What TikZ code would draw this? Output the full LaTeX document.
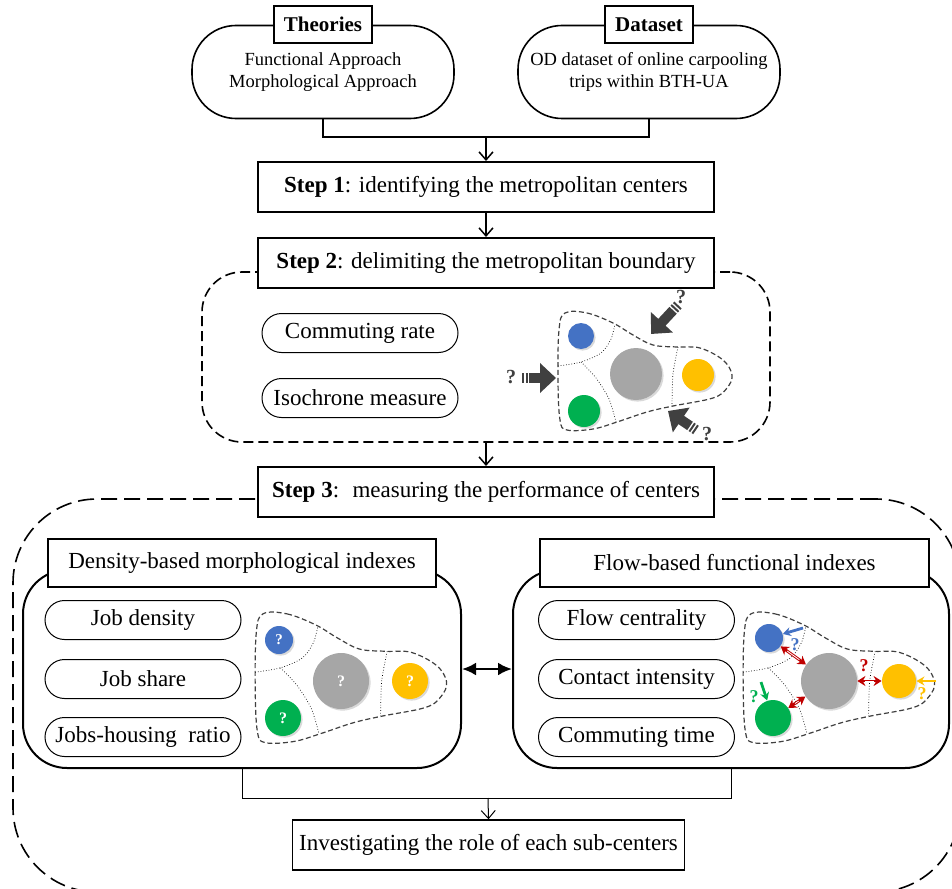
\documentclass[tikz,border=0pt]{standalone}
\usepackage{fontspec}
\setmainfont{Liberation Serif}
\usetikzlibrary{arrows.meta,shadows,positioning}

\definecolor{cblue}{RGB}{68,114,196}
\definecolor{cgray}{RGB}{166,166,166}
\definecolor{cyellow}{RGB}{255,192,0}
\definecolor{cgreen}{RGB}{0,176,80}
\definecolor{cdark}{RGB}{64,64,64}
\definecolor{cred}{RGB}{192,0,0}

\newcommand{\mainsize}{\fontsize{11.5}{13.8}\selectfont}

% outline of the metropolitan area, drawn round the main center
\newcommand{\cityblob}{%
	\draw[blobline] plot[smooth cycle, tension=0.6] coordinates {(-71,-61) (-49,-61) (-23,-51) (-3,-39) (17,-29) (41,-27) (64,-26) (87,-14) (96,1) (91,14) (77,24) (37,32) (11,38) (-19,48) (-43,55) (-69,56) (-76,46) (-78,6) (-77,-44)};
	\draw[divline] plot[smooth] coordinates {(-78,-8) (-55,-12) (-35,-21) (-25,-35) (-21,-50)};
	\draw[divline] plot[smooth] coordinates {(-55,-12) (-40,4) (-27,25) (-20,48)};
	\draw[divline] plot[smooth] coordinates {(42,-27) (37,0) (36,32)};
}

\begin{document}
\begin{tikzpicture}[x=0.5pt,y=-0.5pt,
	every node/.style={font=\mainsize},
	topbox/.style={draw, line width=0.8pt, rounded corners=22pt, minimum width=131pt, minimum height=46.5pt, align=center, font=\fontsize{9.25}{11.2}\selectfont},
	tagbox/.style={draw, fill=white, line width=0.8pt, minimum height=18.5pt, inner xsep=5pt, font=\fontsize{10.5}{12}\selectfont\bfseries},
	stepbox/.style={draw, fill=white, line width=1pt, minimum width=228pt, minimum height=25pt},
	pill/.style={draw, line width=0.5pt, rounded corners=9.75pt, minimum width=98pt, minimum height=19.5pt},
	panel/.style={draw, line width=1pt, rounded corners=22pt},
	conn/.style={line width=0.75pt},
	thinconn/.style={line width=0.5pt},
	arr/.style={-{Straight Barb[length=4pt,width=7pt]}},
	blobline/.style={cdark, line width=0.6pt, dash pattern=on 2.5pt off 1.4pt},
	divline/.style={black, line width=0.35pt, densely dotted},
	cityc/.style={circle, inner sep=0pt, text=white, font=\fontsize{8}{8}\selectfont\bfseries, drop shadow={shadow xshift=0.8pt, shadow yshift=-0.8pt, opacity=0.3}},
	bigarr/.style={cdark, line width=5pt, dash pattern=on 1pt off 0.8pt on 1pt off 0.8pt on 60pt, -{Triangle[length=8pt,width=14.5pt]}},
	qdark/.style={cdark, font=\fontsize{10}{10}\selectfont\bfseries},
	qcol/.style={font=\fontsize{9}{9}\selectfont\bfseries},
	colarr/.style={line width=1.4pt, -{Stealth[length=4pt,width=4.5pt]}},
	redarr/.style={cred, line width=1.4pt, {Stealth[length=4pt,width=5pt]}-{Stealth[length=4pt,width=5pt]}},
	redcore/.style={white, line width=0.4pt, shorten <=4pt, shorten >=4pt}]
	
	\clip (0,0) rectangle (952,888);
	
	% inputs
	\node[topbox] (theo) at (323,72) {Functional Approach\\Morphological Approach};
	\node[tagbox] (theotag) at (theo.north) {Theories};
	\node[topbox] (data) at (649,72) {OD dataset of online carpooling\\trips within BTH-UA};
	\node[tagbox] (datatag) at (data.north) {Dataset};
	\coordinate (topjoin) at (486,137);
	\draw[conn] (theo.south) |- (topjoin) -| (data.south);
	
	% step 1
	\node[stepbox] (s1) at (486,187) {\textbf{Step 1}: identifying the metropolitan centers};
	\draw[conn,arr] (topjoin) -- (s1.north);
	
	% step 2
	\node[draw, line width=0.8pt, dash pattern=on 5pt off 2.5pt, rounded corners=20pt, minimum width=284pt, minimum height=85pt] (f2) at (486,357) {};
	\node[stepbox] (s2) at (486,263) {\textbf{Step 2}: delimiting the metropolitan boundary};
	\draw[conn,arr] (s1) -- (s2);
	\node[pill] (rate) at (360,333) {Commuting rate};
	\node[pill] (iso) at (360,398) {Isochrone measure};
	
	\begin{scope}[shift={(636,374)}]
		\cityblob
	\end{scope}
	\node[cityc, fill=cblue, minimum size=13pt] (b2) at (581,336) {};
	\node[cityc, fill=cgray, minimum size=26pt] (g2) at (636,374) {};
	\node[cityc, fill=cyellow, minimum size=16pt] (y2) at (698,375) {};
	\node[cityc, fill=cgreen, minimum size=16pt] (n2) at (584,411) {};
	
	\coordinate (in1) at (678,305);
	\coordinate (at1) at (651,334);
	\coordinate (in2) at (522,378);
	\coordinate (at2) at (556,378);
	\coordinate (in3) at (696,430);
	\coordinate (at3) at (668,411);
	\draw[bigarr] (in1) -- (at1);
	\draw[bigarr] (in2) -- (at2);
	\draw[bigarr] (in3) -- (at3);
	\node[qdark] (q1) at (681,297) {?};
	\node[qdark] (q2) at (511,377) {?};
	\node[qdark] (q3) at (707,434) {?};
	
	% step 3
	\node[draw, line width=0.8pt, dash pattern=on 8pt off 3.5pt, rounded corners=42pt, minimum width=473.5pt, minimum height=196.5pt] (f3) at (486.5,695.5) {};
	\node[stepbox] (s3) at (486,492) {\textbf{Step 3}:~ measuring the performance of centers};
	\draw[conn,arr] (f2.south) -- (s3.north);
	
	\node[panel, minimum width=219pt, minimum height=99pt] (lp) at (242,669) {};
	\node[panel, minimum width=218pt, minimum height=99pt] (rp) at (731,669) {};
	\node[draw, fill=white, line width=1pt, minimum width=194pt, minimum height=24pt] (lh) at (242,563) {Density-based morphological indexes};
	\node[draw, fill=white, line width=1pt, minimum width=194.5pt, minimum height=24pt] (rh) at (734.5,563) {Flow-based functional indexes};
	\draw[line width=1.3pt, {Latex[length=7pt,width=6.5pt]}-{Latex[length=7pt,width=6.5pt]}] (lp.east) -- (rp.west);
	
	\node[pill] (jd) at (143,620) {Job density};
	\node[pill] (js) at (143,679) {Job share};
	\node[pill] (jh) at (143,737) {Jobs-housing~ ratio};
	\node[pill] (fc) at (636.5,620) {Flow centrality};
	\node[pill] (ci) at (636.5,679) {Contact intensity};
	\node[pill] (ct) at (636.5,737) {Commuting time};
	
	% morphological map
	\begin{scope}[shift={(341,681)},scale=1.1]
		\cityblob
	\end{scope}
	\node[cityc, fill=cblue, minimum size=14pt, font=\fontsize{7.5}{7.5}\selectfont\bfseries] (b3) at (279,640) {?};
	\node[cityc, fill=cgray, minimum size=28pt] (g3) at (341,681) {?};
	\node[cityc, fill=cyellow, minimum size=18pt] (y3) at (410,681) {?};
	\node[cityc, fill=cgreen, minimum size=18pt] (n3) at (283,718) {?};
	
	% functional map
	\begin{scope}[shift={(829,681)},scale=1.1]
		\cityblob
	\end{scope}
	\node[cityc, fill=cblue, minimum size=14pt] (b4) at (769,638) {};
	\node[cityc, fill=cgray, minimum size=28pt] (g4) at (829,681) {};
	\node[cityc, fill=cyellow, minimum size=17pt] (y4) at (899,681) {};
	\node[cityc, fill=cgreen, minimum size=18pt] (n4) at (773,718) {};
	\draw[redarr] (b4) -- (g4);
	\draw[redcore] (b4) -- (g4);
	\draw[redarr] (g4) -- (y4);
	\draw[redcore] (g4) -- (y4);
	\draw[redarr] (n4) -- (g4);
	\draw[redcore] (n4) -- (g4);
	\coordinate (bin) at (803,628);
	\coordinate (nin) at (761,682);
	\coordinate (yin) at (936,681);
	\draw[colarr, cblue] (bin) -- (b4);
	\draw[colarr, cgreen] (nin) -- (n4);
	\draw[colarr, cyellow] (yin) -- (y4);
	\node[qcol, cblue] (qb) at (795,645) {?};
	\node[qcol, cgreen] (qn) at (754,697) {?};
	\node[qcol, cyellow] (qy) at (922,694) {?};
	\node[qcol, cred] (qr) at (864,666) {?};
	
	% result
	\node[draw, line width=0.75pt, minimum width=194.5pt, minimum height=25pt] (role) at (488.5,845) {Investigating the role of each sub-centers};
	\coordinate (botjoin) at (488,798);
	\draw[thinconn] (lp.south) |- (botjoin) -| (rp.south);
	\draw[thinconn,arr] (botjoin) -- (role.north);
\end{tikzpicture}
\end{document}
